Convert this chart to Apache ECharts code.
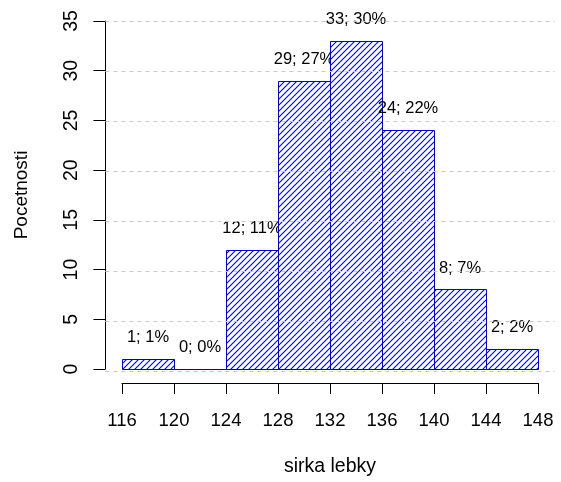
<!DOCTYPE html>
<html>
<head>
<meta charset="utf-8">
<script src="https://cdn.jsdelivr.net/npm/echarts@6/dist/echarts.min.js"></script>
<style>html,body{margin:0;padding:0;background:#fff}#c{width:561px;height:482px}</style>
</head>
<body>
<div id="c"></div>
<script>
// ---- data ----
const binStarts = [116, 120, 124, 128, 132, 136, 140, 144];
const binEnds   = [120, 124, 128, 132, 136, 140, 144, 148];
const counts    = [1, 0, 12, 29, 33, 24, 8, 2];
const percents  = [1, 0, 11, 27, 30, 22, 7, 2];
const yTicks    = [0, 5, 10, 15, 20, 25, 30, 35];
const xTicks    = [116, 120, 124, 128, 132, 136, 140, 144, 148];
const xTitle = 'sirka lebky';
const yTitle = 'Pocetnosti';

// ---- layout ----
const W = 561, H = 482;
const B = {left: 122, right: 23, top: 21, bottom: 111}; // data box (116..148, 0..35)
const xMin = xTicks[0], xMax = xTicks[xTicks.length - 1];
const yMin = yTicks[0], yMax = yTicks[yTicks.length - 1];
const pxX = (W - B.left - B.right) / (xMax - xMin);
const pxY = (H - B.top - B.bottom) / (yMax - yMin);
const extX = 0.04 * (xMax - xMin), extY = 0.04 * (yMax - yMin);
const A = {left: B.left - extX * pxX, right: B.right - extX * pxX, top: B.top - extY * pxY, bottom: B.bottom - extY * pxY};

const FONT = 'Liberation Sans, Arial, sans-serif';
const HATCH = '#0000ff';
const BORDER = '#0000b4';

// hatch pattern
const s = 6;
const pc = document.createElement('canvas');
pc.width = s; pc.height = s;
const g = pc.getContext('2d');
g.fillStyle = '#fff'; g.fillRect(0, 0, s, s);
g.strokeStyle = HATCH; g.lineWidth = 1.1;
g.beginPath();
g.moveTo(-1, s + 1); g.lineTo(s + 1, -1);
g.moveTo(-1, 1); g.lineTo(1, -1);
g.moveTo(s - 1, s + 1); g.lineTo(s + 1, s - 1);
g.stroke();
const pattern = {image: pc, repeat: 'repeat'};

const barData = binStarts.map((b, i) => [b, binEnds[i], counts[i], percents[i]]);

const chart = echarts.init(document.getElementById('c'), null, {renderer: 'canvas'});
chart.setOption({
  animation: false,
  backgroundColor: '#fff',
  grid: [
    {left: B.left, right: B.right, top: B.top, bottom: B.bottom, containLabel: false},
    {left: A.left, right: A.right, top: A.top, bottom: A.bottom, containLabel: false}
  ],
  xAxis: [
    {
      type: 'value', gridIndex: 0, min: xMin, max: xMax, interval: 4,
      position: 'bottom', offset: extY * pxY,
      axisLine: {show: true, onZero: false, lineStyle: {color: '#000', width: 1}},
      axisTick: {show: true, length: 11, lineStyle: {color: '#000'}},
      axisLabel: {show: true, margin: 28, color: '#000', fontSize: 18.5, fontFamily: FONT,
                  showMinLabel: true, showMaxLabel: true},
      splitLine: {show: false},
      name: xTitle, nameLocation: 'middle', nameGap: 74,
      nameTextStyle: {color: '#000', fontSize: 19.5, fontFamily: FONT}
    },
    {type: 'value', gridIndex: 1, min: xMin - extX, max: xMax + extX, show: false}
  ],
  yAxis: [
    {
      type: 'value', gridIndex: 0, min: yMin, max: yMax, interval: 5,
      position: 'left', offset: extX * pxX,
      axisLine: {show: true, onZero: false, lineStyle: {color: '#000', width: 1}},
      axisTick: {show: true, length: 12, lineStyle: {color: '#000'}},
      axisLabel: {show: true, rotate: 90, margin: 24, color: '#000', fontSize: 19.5, fontFamily: FONT,
                  showMinLabel: true, showMaxLabel: true},
      splitLine: {show: false},
      name: yTitle, nameLocation: 'middle', nameGap: 74,
      nameTextStyle: {color: '#000', fontSize: 19, fontFamily: FONT}
    },
    {type: 'value', gridIndex: 1, min: yMin - extY, max: yMax + extY, show: false}
  ],
  series: [
    {
      type: 'line', xAxisIndex: 1, yAxisIndex: 1, data: [], z: 1, silent: true,
      markLine: {
        silent: true, symbol: 'none', label: {show: false},
        lineStyle: {color: '#c8c8c8', type: [4, 4], width: 1},
        data: yTicks.map(v => ({yAxis: v}))
      }
    },
    {
      type: 'custom', xAxisIndex: 0, yAxisIndex: 0, z: 3, clip: false,
      data: barData,
      renderItem: function (params, api) {
        const lo = api.value(0), hi = api.value(1), c = api.value(2), p = api.value(3);
        const p0 = api.coord([lo, c]);
        const p1 = api.coord([hi, 0]);
        const x0 = Math.round(p0[0]) + 0.5, x1 = Math.round(p1[0]) + 0.5;
        const y0 = Math.round(p0[1]) + 0.5, y1 = Math.round(p1[1]) + 0.5;
        return {
          type: 'group',
          children: [
            {type: 'rect', shape: {x: x0, y: y0, width: x1 - x0, height: y1 - y0},
             style: {fill: pattern, stroke: BORDER, lineWidth: 1}},
            {type: 'text', style: {text: c + '; ' + p + '%', x: (p0[0] + p1[0]) / 2, y: p0[1] - 13,
             align: 'center', verticalAlign: 'bottom', fontSize: 16.5, fontFamily: FONT, fill: '#000'}}
          ]
        };
      }
    }
  ]
});
</script>
</body>
</html>
